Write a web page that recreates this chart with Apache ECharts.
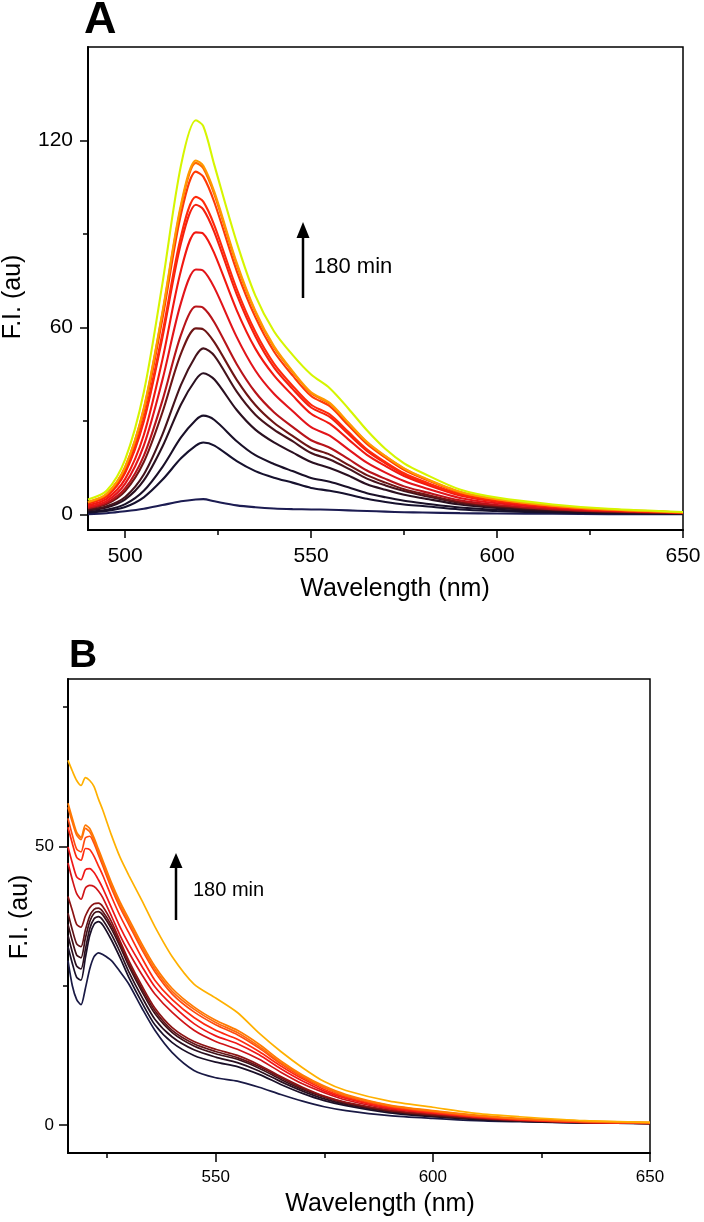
<!DOCTYPE html>
<html><head><meta charset="utf-8">
<script src="https://cdn.jsdelivr.net/npm/echarts@6/dist/echarts.min.js"></script>
<style>html,body{margin:0;padding:0;background:#fff}#c{width:704px;height:1222px}</style>
</head><body><div id="c"></div>
<script>
// ---------- Panel A data ----------
const waveA = [490,495,500,505,510,515,519,521,524,530,535,540,545,550,555,560,565,570,575,580,590,600,615,630,650];
const a01 = [0.1,0.4,1,1.8,3,4.2,4.8,4.9,4.2,2.9,2.3,1.9,1.7,1.6,1.5,1.3,1.1,0.9,0.7,0.6,0.4,0.3,0.2,0.1,0.1];
const a02 = [0.6,1.1,2.4,5.5,11.1,18,22.1,23.1,22.1,17.1,13.9,11.8,10.2,8.5,7.6,6.4,5,4,3.2,2.7,1.6,1.1,0.6,0.4,0.2];
const a03 = [0.9,1.5,3.3,7.6,15.2,24.7,30.3,31.7,30.3,23.5,19,16.2,13.9,11.7,10.5,8.7,6.8,5.5,4.4,3.6,2.2,1.5,0.9,0.5,0.3];
const a04 = [1.3,2.2,4.8,10.9,21.7,35.3,43.3,45.3,43.3,33.5,27.2,23.1,19.9,16.8,14.9,12.5,9.7,7.9,6.3,5.2,3.2,2.1,1.2,0.7,0.4];
const a05 = [1.5,2.6,5.6,12.8,25.6,41.6,50.9,53.3,50.9,39.4,32,27.2,23.5,19.7,17.6,14.7,11.5,9.3,7.5,6.1,3.7,2.5,1.4,0.9,0.4];
const a06 = [1.9,3.3,7.5,16.8,32.7,51.6,59.7,59.4,55.2,43.2,35.1,29.4,25.2,21.3,19.2,15.9,12.6,10.2,8.1,6.6,4,2.7,1.6,0.9,0.4];
const a07 = [2.1,3.7,8.4,18.8,36.5,57.6,66.7,66.3,61.6,48.2,39.2,32.8,28.1,23.8,21.4,17.8,14.1,11.4,9,7.4,4.5,3,1.7,1,0.5];
const a08 = [2.5,4.3,9.9,22.1,43.1,67.9,78.6,78.2,72.7,56.9,46.2,38.7,33.2,28,25.3,20.9,16.6,13.4,10.7,8.7,5.3,3.6,2.1,1.2,0.6];
const a09 = [2.9,5,11.4,25.5,49.6,78.3,90.5,90.1,83.7,65.5,53.2,44.6,38.2,32.3,29.1,24.1,19.1,15.5,12.3,10,6.1,4.1,2.4,1.4,0.6];
const a10 = [3.5,5.8,13.4,29.8,56.7,87,99.4,97.9,90.5,70.6,57.2,47.2,40.3,34.3,31.3,25.8,20.4,16.4,12.9,10.4,6.4,4.3,2.5,1.4,0.6];
const a11 = [3.6,5.9,13.8,30.6,58.1,89.2,101.9,100.4,92.7,72.3,58.6,48.4,41.3,35.2,32.1,26.5,20.9,16.8,13.2,10.7,6.5,4.4,2.5,1.4,0.6];
const a12 = [3.9,6.4,14.9,33,62.7,96.3,110,108.4,100.1,78.1,63.3,52.3,44.6,38,34.7,28.6,22.6,18.2,14.3,11.6,7,4.7,2.8,1.5,0.7];
const a13 = [3.9,6.5,15.2,33.8,64.3,98.7,112.8,111.1,102.6,80.1,64.9,53.6,45.7,38.9,35.5,29.3,23.1,18.6,14.7,11.8,7.2,4.9,2.8,1.6,0.7];
const a14 = [4.0,6.6,15.3,34.1,64.8,99.4,113.6,111.9,103.4,80.7,65.3,54,46,39.2,35.8,29.5,23.3,18.7,14.8,11.9,7.3,4.9,2.8,1.6,0.7];
const a15 = [4.8,7.6,17.7,39.2,74,112,126.5,124.6,112,87.3,70.2,58.8,51.2,44.9,40.5,34,27,21,16.4,13.3,8,5.4,3.2,1.8,0.8];
const seriesA = [a01,a02,a03,a04,a05,a06,a07,a08,a09,a10,a11,a12,a13,a14,a15];
const colorsA = ['#1c1c52','#16112e','#1a1028','#2a1020','#45131c','#6e1515','#b8141a','#e3141a','#f21810','#f5200f','#ff2a0a','#ff3a05','#ff6a00','#ff9a00','#d6f500'];
const yTicksA = [0,60,120], yMinorA = [30,90];
const xTicksA = [500,550,600,650], xMinorA = [525,575,625];

// ---------- Panel B data ----------
const waveB = [516,517,518,519,520,521,522,523,524,526,528,530,533,536,540,545,550,555,560,565,570,575,580,590,600,610,620,635,650];
const b01 = [29.5,25,22.5,21.6,24.5,28,30.2,30.9,30.6,29.5,27.5,25.3,21,17,13,9.8,8.5,7.9,6.8,5.5,4.3,3.3,2.6,1.7,1.2,0.8,0.6,0.4,0.3];
const b02 = [32,29,26.5,26,30,34,36,36.5,35.9,33.2,30,26.5,22,18,14.8,12.5,11.3,10.5,9.1,7.3,5.7,4.4,3.5,2.2,1.5,1,0.7,0.4,0.3];
const b03 = [34,31,28.5,28,31.5,35.2,37,37.4,36.8,34.2,31,27.5,23,19,15.8,13.5,12.2,11.2,9.7,7.8,6.1,4.7,3.7,2.4,1.6,1.1,0.7,0.4,0.3];
const b04 = [36,33,30.5,30,33.5,36.5,38,38.3,37.7,35.2,32,28.5,24,20,16.6,14.2,12.8,11.8,10.2,8.2,6.4,5,3.9,2.5,1.7,1.2,0.8,0.5,0.3];
const b05 = [38,35,32.5,32,35,37.5,38.7,38.9,38.3,35.8,32.5,29,24.5,20.5,17,14.6,13.2,12.1,10.5,8.5,6.6,5.1,4,2.6,1.8,1.2,0.8,0.5,0.3];
const b06 = [41,38.5,36,35.5,37.5,39,39.7,39.8,39.2,36.5,33,29.5,25,21,17.5,15,13.6,12.5,10.8,8.7,6.8,5.2,4.1,2.7,1.9,1.3,0.9,0.5,0.3];
const b07 = [47,44,41.5,40.5,42.5,43,42.8,42,40.8,37.5,34,31,27,23.5,20.2,17,15,13.6,11.8,9.5,7.4,5.8,4.5,2.9,2.1,1.4,0.9,0.5,0.3];
const b08 = [49.9,47,44.5,44,45.8,46,45.3,44,42.5,39,35.5,32.5,28.5,24.8,21.5,18.2,16,14.6,12.6,10.1,7.9,6.1,4.8,3.1,2.2,1.5,1,0.5,0.4];
const b09 = [53.4,50.5,48,47.5,49.6,49.4,48.2,46.5,44.8,41,37.5,34.5,30,26,22.5,19.3,17,15.4,13.2,10.6,8.3,6.4,5,3.2,2.3,1.5,1,0.6,0.4];
const b10 = [55,52,49.5,49,51.5,51.8,50.5,48.5,46.5,42.5,39,36,31.5,27.5,23.5,20.3,18,16.2,13.8,11,8.6,6.7,5.2,3.4,2.4,1.6,1.1,0.6,0.4];
const b11 = [57,54.3,52,51.2,53.2,52.6,51,49,47,43,39.5,36.5,32,28,24,20.8,18.4,16.6,14.1,11.2,8.8,6.8,5.3,3.5,2.5,1.7,1.1,0.6,0.4];
const b12 = [57.7,55,52.5,51.6,53.8,53.2,51.5,49.5,47.5,43.5,40,37,32.5,28.5,24.5,21.2,18.8,17,14.5,11.5,9,7,5.5,3.6,2.6,1.8,1.2,0.7,0.5];
const b13 = [65.4,63.5,61.8,60.9,62.3,61.8,60.7,58.5,56.5,52,48,44.8,40.3,35.6,30.2,25.3,22.8,20.2,16.5,13.2,10.3,7.8,6.2,4.3,3.2,2.1,1.5,0.8,0.5];
const seriesB = [b01,b02,b03,b04,b05,b06,b07,b08,b09,b10,b11,b12,b13];
const colorsB = ['#1a1a45','#1a1028','#2a1020','#3e1018','#601418','#8c1414','#d01418','#f01818','#ff2a10','#ff4a10','#ff6a10','#ff7a00','#ffb000'];
const yTicksB = [0,50], yMinorB = [25,75];
const xTicksB = [550,600,650], xMinorB = [525,575,625];

const FONT = '"Liberation Sans", Arial, Helvetica, sans-serif';

function mkX(grid, min, max, major, minor, fs, margin, tl){
  return [
    {type:'value', gridIndex:grid, min, max, position:'bottom',
     axisLine:{show:true, onZero:false, lineStyle:{color:'#000', width:2}},
     axisTick:{show:true, inside:false, length:tl, customValues:major, lineStyle:{color:'#000', width:1.5}},
     axisLabel:{show:true, customValues:major, margin, color:'#000', fontSize:fs, fontFamily:FONT},
     splitLine:{show:false}},
    {type:'value', gridIndex:grid, min, max, position:'bottom',
     axisLine:{show:false, onZero:false},
     axisTick:{show:true, length:5, customValues:minor, lineStyle:{color:'#000', width:1.5}},
     axisLabel:{show:false, customValues:minor},
     splitLine:{show:false}}
  ];
}
function mkY(grid, min, max, major, minor, fs, margin, tl){
  return [
    {type:'value', gridIndex:grid, min, max, position:'left',
     axisLine:{show:true, onZero:false, lineStyle:{color:'#000', width:2}},
     axisTick:{show:true, length:tl, customValues:major, lineStyle:{color:'#000', width:1.5}},
     axisLabel:{show:true, customValues:major, margin, color:'#000', fontSize:fs, fontFamily:FONT},
     splitLine:{show:false}},
    {type:'value', gridIndex:grid, min, max, position:'left',
     axisLine:{show:false, onZero:false},
     axisTick:{show:true, length:5, customValues:minor, lineStyle:{color:'#000', width:1.5}},
     axisLabel:{show:false, customValues:minor},
     splitLine:{show:false}}
  ];
}

const xAxes = [...mkX(0,490,650,xTicksA,xMinorA,21,16,8), ...mkX(1,516,650,xTicksB,xMinorB,17,16,9)];
const yAxes = [...mkY(0,-5,150,yTicksA,yMinorA,21,15,8), ...mkY(1,-5,80,yTicksB,yMinorB,17,14,9)];

const series = [];
seriesA.forEach((arr,i)=>{
  series.push({type:'line', xAxisIndex:0, yAxisIndex:0, showSymbol:false, smooth:0.3, silent:true,
    lineStyle:{color:colorsA[i], width:2.1}, data: waveA.map((w,j)=>[w, arr[j]])});
});
seriesB.forEach((arr,i)=>{
  series.push({type:'line', xAxisIndex:2, yAxisIndex:2, showSymbol:false, smooth:0.25, silent:true,
    lineStyle:{color:colorsB[i], width:1.7}, data: waveB.map((w,j)=>[w, arr[j]])});
});

const graphic = [
  {type:'text', x:84, y:21, style:{text:'A', font:'bold 45px '+FONT, fill:'#000', align:'left', verticalAlign:'middle'}},
  {type:'text', x:69, y:656, style:{text:'B', font:'bold 39px '+FONT, fill:'#000', align:'left', verticalAlign:'middle'}},
  {type:'text', x:395, y:589, style:{text:'Wavelength (nm)', font:'25px '+FONT, fill:'#000', align:'center', verticalAlign:'middle'}},
  {type:'text', x:380, y:1204, style:{text:'Wavelength (nm)', font:'25px '+FONT, fill:'#000', align:'center', verticalAlign:'middle'}},
  {type:'text', x:13, y:297, rotation:Math.PI/2, style:{text:'F.I. (au)', font:'25px '+FONT, fill:'#000', align:'center', verticalAlign:'middle'}},
  {type:'text', x:20, y:917, rotation:Math.PI/2, style:{text:'F.I. (au)', font:'25px '+FONT, fill:'#000', align:'center', verticalAlign:'middle'}},
  {type:'line', shape:{x1:303, y1:236, x2:303, y2:298}, style:{stroke:'#000', lineWidth:2.5}},
  {type:'polygon', shape:{points:[[303,222],[296.5,238],[309.5,238]]}, style:{fill:'#000'}},
  {type:'text', x:314, y:267, style:{text:'180 min', font:'22px '+FONT, fill:'#000', align:'left', verticalAlign:'middle'}},
  {type:'line', shape:{x1:176, y1:866, x2:176, y2:920}, style:{stroke:'#000', lineWidth:2.5}},
  {type:'polygon', shape:{points:[[176,853],[169.5,868],[182.5,868]]}, style:{fill:'#000'}},
  {type:'text', x:193, y:890, style:{text:'180 min', font:'20px '+FONT, fill:'#000', align:'left', verticalAlign:'middle'}}
];

const chart = echarts.init(document.getElementById('c'), null, {renderer:'canvas'});
chart.setOption({
  animation:false,
  backgroundColor:'#fff',
  grid:[
    {left:88, top:47, width:595, height:483, show:true, borderColor:'#000', borderWidth:1.5, backgroundColor:'transparent'},
    {left:68, top:679, width:582, height:474, show:true, borderColor:'#000', borderWidth:1.5, backgroundColor:'transparent'}
  ],
  xAxis: xAxes,
  yAxis: yAxes,
  series,
  graphic
});
</script>
</body></html>
